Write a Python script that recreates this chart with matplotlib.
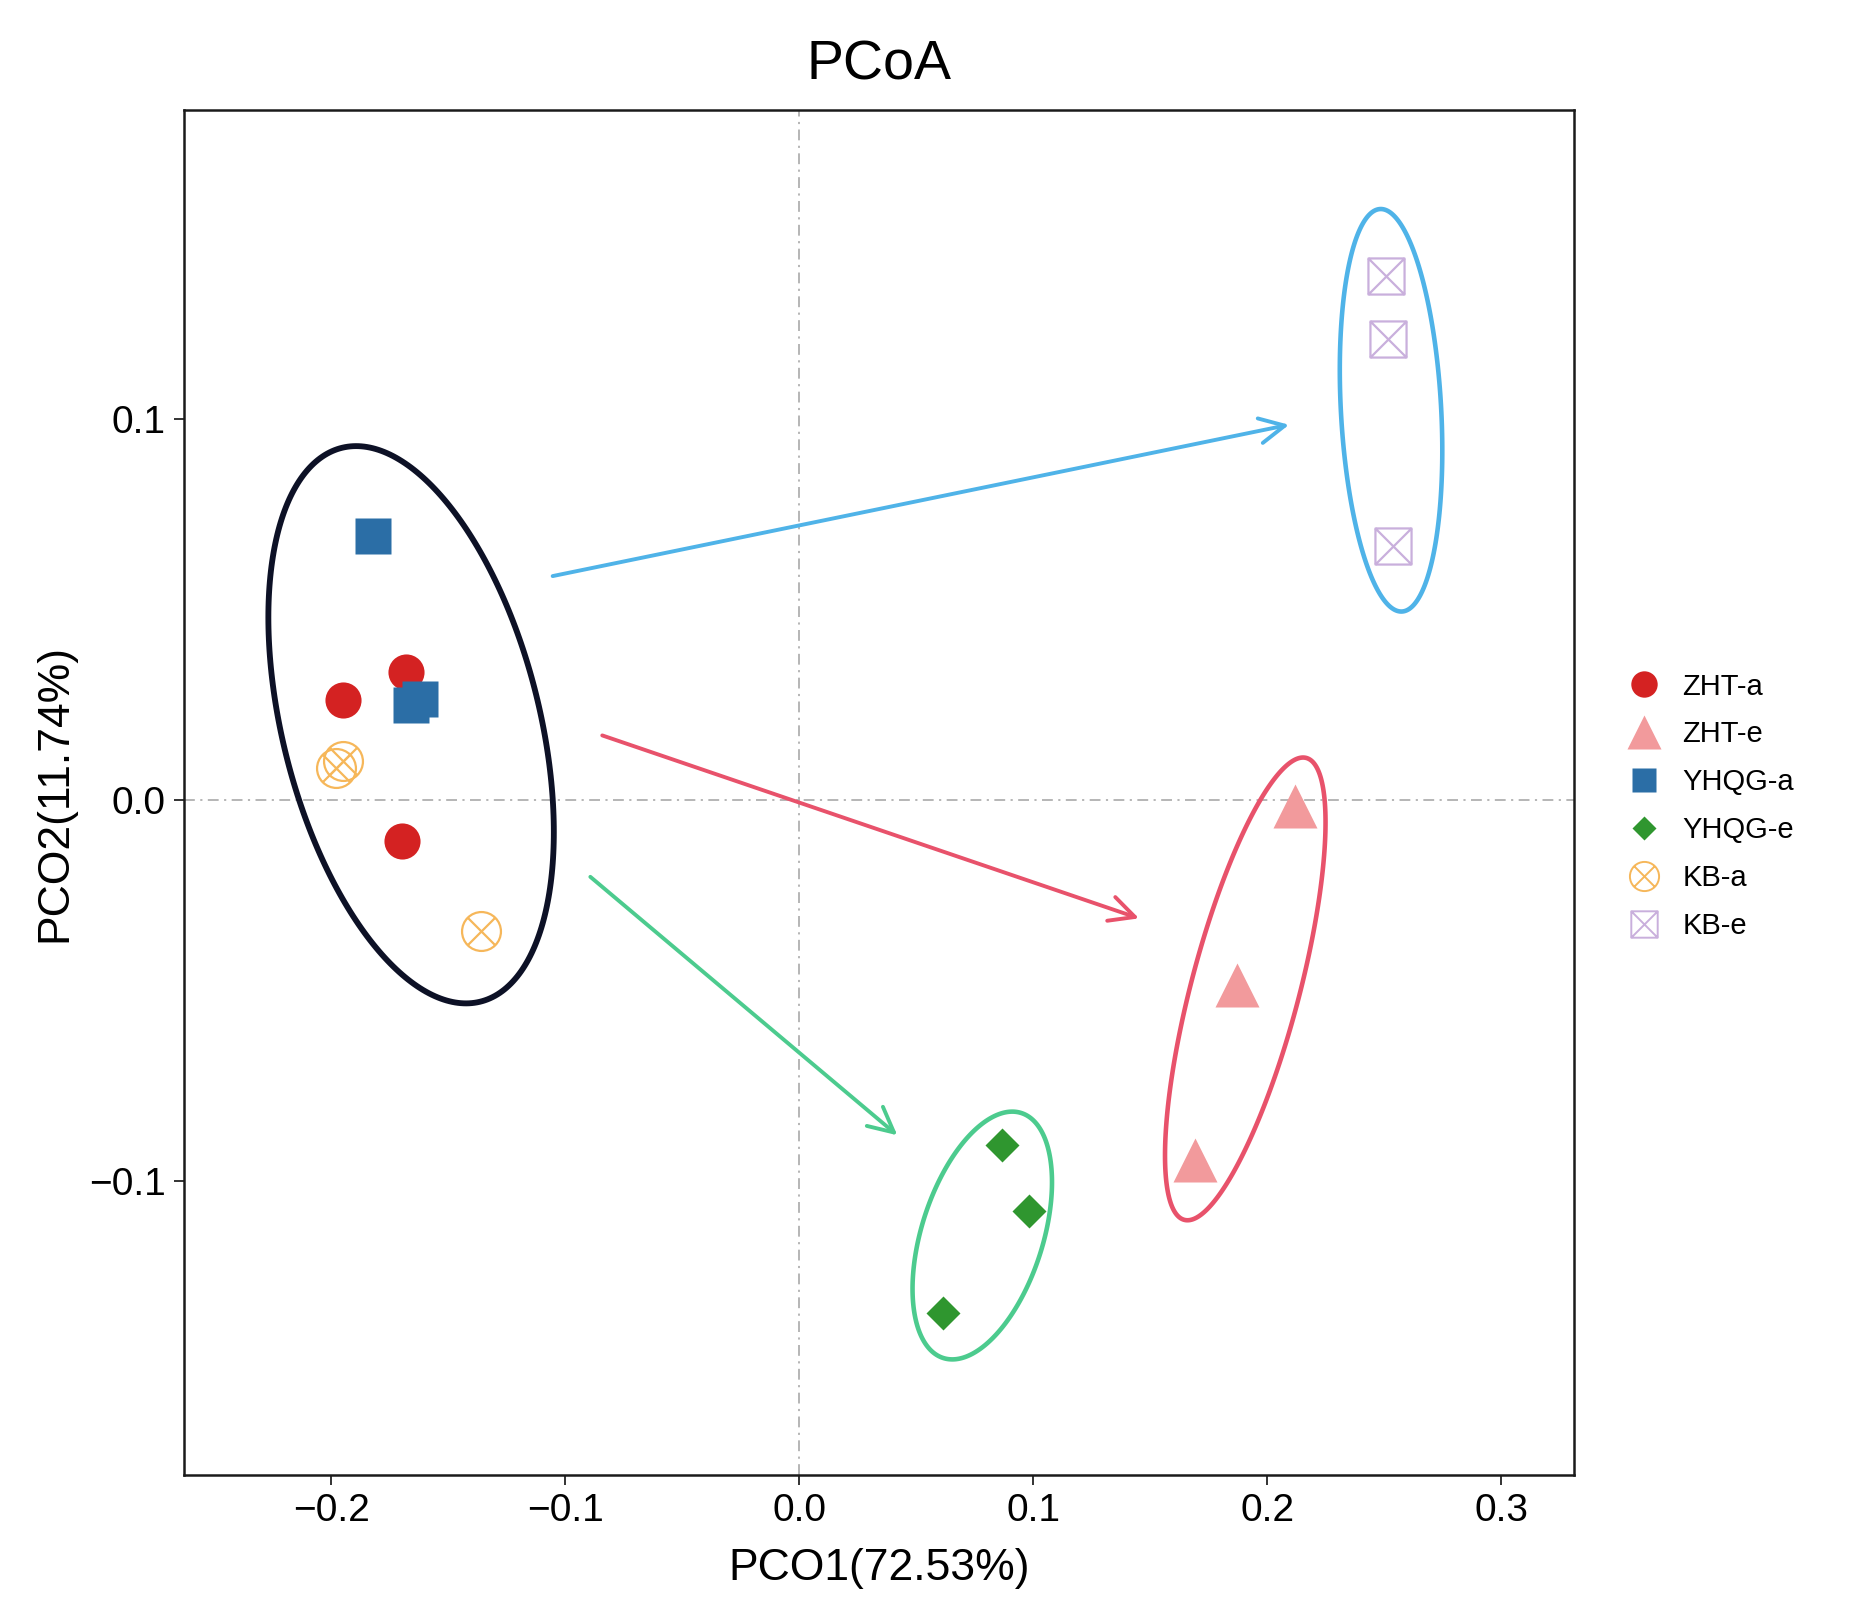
import numpy as np
import matplotlib
matplotlib.use('Agg')
import matplotlib.pyplot as plt
from matplotlib.path import Path
from matplotlib.lines import Line2D
from matplotlib.patches import Polygon

plt.rcParams['font.family'] = ['Liberation Sans', 'DejaVu Sans']

# sample scores on the first two axes
groups = ['ZHT-a', 'ZHT-e', 'YHQG-a', 'YHQG-e', 'KB-a', 'KB-e']
zht_a_x = [-0.195, -0.168, -0.170]
zht_a_y = [0.0263, 0.0337, -0.0108]
zht_e_x = [0.212, 0.187, 0.169]
zht_e_y = [-0.0015, -0.0486, -0.0944]
yhqg_a_x = [-0.182, -0.166, -0.162]
yhqg_a_y = [0.0693, 0.0251, 0.0266]
yhqg_e_x = [0.0867, 0.0983, 0.0615]
yhqg_e_y = [-0.0904, -0.1077, -0.1344]
kb_a_x = [-0.195, -0.198, -0.136]
kb_a_y = [0.0102, 0.0084, -0.0344]
kb_e_x = [0.2506, 0.2516, 0.2536]
kb_e_y = [0.1375, 0.1210, 0.0666]

# ellipses: centre, x/y radius, correlation
ell_cx = [-0.1659, 0.2529, 0.1906, 0.0782]
ell_cy = [0.0198, 0.1023, -0.0495, -0.1142]
ell_rx = [0.0610, 0.0219, 0.0343, 0.0298]
ell_ry = [0.0731, 0.0528, 0.0607, 0.0325]
ell_rho = [-0.385, -0.20, 0.72, 0.43]
ell_col = ['#0d1126', '#4fb3e8', '#e8526b', '#4ccb8e']

# arrows a -> e
arr_x0 = [-0.1054, -0.0842, -0.0893]
arr_y0 = [0.0588, 0.0170, -0.0201]
arr_x1 = [0.2093, 0.1452, 0.0419]
arr_y1 = [0.0985, -0.0310, -0.0879]
arr_col = ['#4fb3e8', '#e8526b', '#4ccb8e']

pc1_label = 'PCO1(72.53%)'
pc2_label = 'PCO2(11.74%)'

# circle with a cross, square with a cross
circ = Path.unit_circle()
d = np.sqrt(0.5)
xlines = Path([(-d, -d), (d, d), (-d, d), (d, -d)],
              [Path.MOVETO, Path.LINETO, Path.MOVETO, Path.LINETO])
circle_x = Path.make_compound_path(circ, xlines)
sq = Path([(-1, -1), (1, -1), (1, 1), (-1, 1), (-1, -1)],
          [Path.MOVETO, Path.LINETO, Path.LINETO, Path.LINETO, Path.CLOSEPOLY])
sqx = Path([(-1, -1), (1, 1), (-1, 1), (1, -1)],
           [Path.MOVETO, Path.LINETO, Path.MOVETO, Path.LINETO])
square_x = Path.make_compound_path(sq, sqx)

fig = plt.figure(figsize=(18.5, 16.22), dpi=100)
ax = fig.add_axes([0.0994, 0.0907, 0.7513, 0.8413])

ax.axhline(0, color='#b0b0b0', lw=1.3, ls=(0, (6, 3, 1.2, 3)), zorder=0)
ax.axvline(0, color='#b0b0b0', lw=1.3, ls=(0, (6, 3, 1.2, 3)), zorder=0)

t = np.linspace(0, 2 * np.pi, 300, endpoint=False)
for cx, cy, rx, ry, rho, c in zip(ell_cx, ell_cy, ell_rx, ell_ry, ell_rho, ell_col):
    ex = cx + rx * np.cos(t)
    ey = cy + ry * (rho * np.cos(t) + np.sqrt(1 - rho ** 2) * np.sin(t))
    lw = 4.2 if c == '#0d1126' else 3.3
    ax.add_patch(Polygon(np.column_stack([ex, ey]), closed=True, fill=False,
                         edgecolor=c, lw=lw, zorder=2))

for x0, y0, x1, y1, c in zip(arr_x0, arr_y0, arr_x1, arr_y1, arr_col):
    ax.annotate('', xy=(x1, y1), xytext=(x0, y0),
                arrowprops=dict(arrowstyle='->,head_length=0.9,head_width=0.45',
                                color=c, lw=2.8, shrinkA=0, shrinkB=0,
                                mutation_scale=20), zorder=2)

ax.plot(zht_a_x, zht_a_y, 'o', ms=26, color='#d42222', mec='none', zorder=3)
ax.plot(zht_e_x, zht_e_y, '^', ms=32, color='#f29a9c', mec='none', zorder=3)
ax.plot(yhqg_a_x, yhqg_a_y, 's', ms=26, color='#2b6ea6', mec='none', zorder=3)
ax.plot(yhqg_e_x, yhqg_e_y, 'D', ms=17, color='#2f962f', mec='none', zorder=3)
ax.plot(kb_a_x, kb_a_y, ls='none', marker=circle_x, ms=28, mfc='none',
        mec='#f6b75a', mew=1.6, zorder=3)
ax.plot(kb_e_x, kb_e_y, ls='none', marker=square_x, ms=26, mfc='none',
        mec='#c9afdc', mew=1.6, zorder=3)

ax.set_xlim(-0.263, 0.331)
ax.set_ylim(-0.177, 0.181)
ax.set_xticks([-0.2, -0.1, 0.0, 0.1, 0.2, 0.3])
ax.set_yticks([-0.1, 0.0, 0.1])
ax.tick_params(labelsize=28, length=7, width=1.4, pad=6, color='#333333')
for s in ax.spines.values():
    s.set_linewidth(1.8)
    s.set_color('#1a1a1a')

ax.set_title('PCoA', fontsize=40, pad=22)
ax.set_xlabel(pc1_label, fontsize=32, labelpad=14)
ax.set_ylabel(pc2_label, fontsize=32)
ax.yaxis.set_label_coords(-0.078, 0.5)

handles = [
    Line2D([], [], ls='none', marker='o', ms=19, color='#d42222', mec='none'),
    Line2D([], [], ls='none', marker='^', ms=24, color='#f29a9c', mec='none'),
    Line2D([], [], ls='none', marker='s', ms=17, color='#2b6ea6', mec='none'),
    Line2D([], [], ls='none', marker='D', ms=12, color='#2f962f', mec='none'),
    Line2D([], [], ls='none', marker=circle_x, ms=21, mfc='none', mec='#f6b75a', mew=1.4),
    Line2D([], [], ls='none', marker=square_x, ms=19, mfc='none', mec='#c9afdc', mew=1.4),
]
fig.legend(handles, groups, loc='center left', bbox_to_anchor=(0.881, 0.503),
           frameon=False, fontsize=21, handlelength=1.0, handletextpad=0.8,
           labelspacing=0.68, borderpad=0, borderaxespad=0)

fig.savefig('out.png', dpi=100)
